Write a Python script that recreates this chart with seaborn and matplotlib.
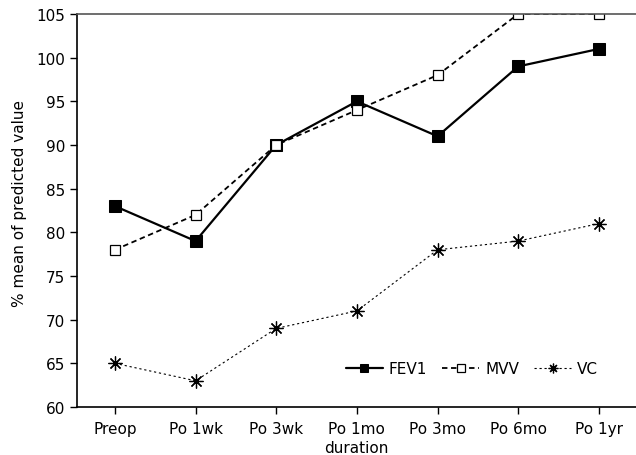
import matplotlib
matplotlib.use("Agg")
import matplotlib.pyplot as plt
import seaborn as sns
import pandas as pd

durations = ["Preop", "Po 1wk", "Po 3wk", "Po 1mo", "Po 3mo", "Po 6mo", "Po 1yr"]
fev1 = [83, 79, 90, 95, 91, 99, 101]
mvv = [78, 82, 90, 94, 98, 105, 105]
vc = [65, 63, 69, 71, 78, 79, 81]

sns.set_theme(style="ticks", rc={"text.color": "black", "axes.labelcolor": "black",
                                 "xtick.color": "black", "ytick.color": "black"})
plt.rcParams["font.family"] = ["DejaVu Sans"]

fig = plt.figure(figsize=(6.36, 4.56), dpi=100)
ax = fig.add_axes([77 / 636, 1 - 408 / 456, 1 - 77 / 636, (408 - 15) / 456])

x = list(range(len(durations)))
series = [
    ("FEV1", fev1, dict(color="black", lw=1.6, linestyle="-", marker="s", markersize=8,
                        markerfacecolor="black", markeredgecolor="black")),
    ("MVV", mvv, dict(color="black", lw=1.3, linestyle=(0, (3, 2)), marker="s", markersize=7.5,
                      markerfacecolor="white", markeredgecolor="black", markeredgewidth=0.9)),
    ("VC", vc, dict(color="black", lw=0.8, linestyle=(0, (2, 2.5)), marker=(8, 2, 0), markersize=10,
                    markeredgecolor="black", markeredgewidth=0.9)),
]
for name, vals, kw in series:
    df = pd.DataFrame({"x": x, "y": vals})
    sns.lineplot(data=df, x="x", y="y", ax=ax, label=name, sort=False, **kw)

ax.set_xlim(-0.47, 6.46)
ax.set_ylim(60, 105)
ax.set_yticks(range(60, 106, 5))
ax.set_xticks(x)
ax.set_xticklabels(durations)
ax.tick_params(axis="both", labelsize=11, direction="out", length=5, width=1, color="black",
               labelcolor="black")
ax.tick_params(axis="x", pad=5)
ax.set_xlabel("duration", fontsize=11, labelpad=3, color="black")
ax.set_ylabel("% mean of predicted value", fontsize=11, color="black")
ax.yaxis.set_label_coords(-0.09, 0.52)
ax.spines["right"].set_visible(False)
for s in ["left", "bottom", "top"]:
    ax.spines[s].set_color("black")
    ax.spines[s].set_linewidth(1.2)
ax.spines["top"].set_color("#555555")

leg = ax.legend(loc="center", bbox_to_anchor=((472 - 77) / 559, (408 - 370) / 393), ncol=3,
                frameon=False, fontsize=11, handlelength=2.4, columnspacing=1.0,
                handletextpad=0.4, markerscale=0.7)
for t in leg.get_texts():
    t.set_color("black")

fig.savefig("out.png", dpi=100)
